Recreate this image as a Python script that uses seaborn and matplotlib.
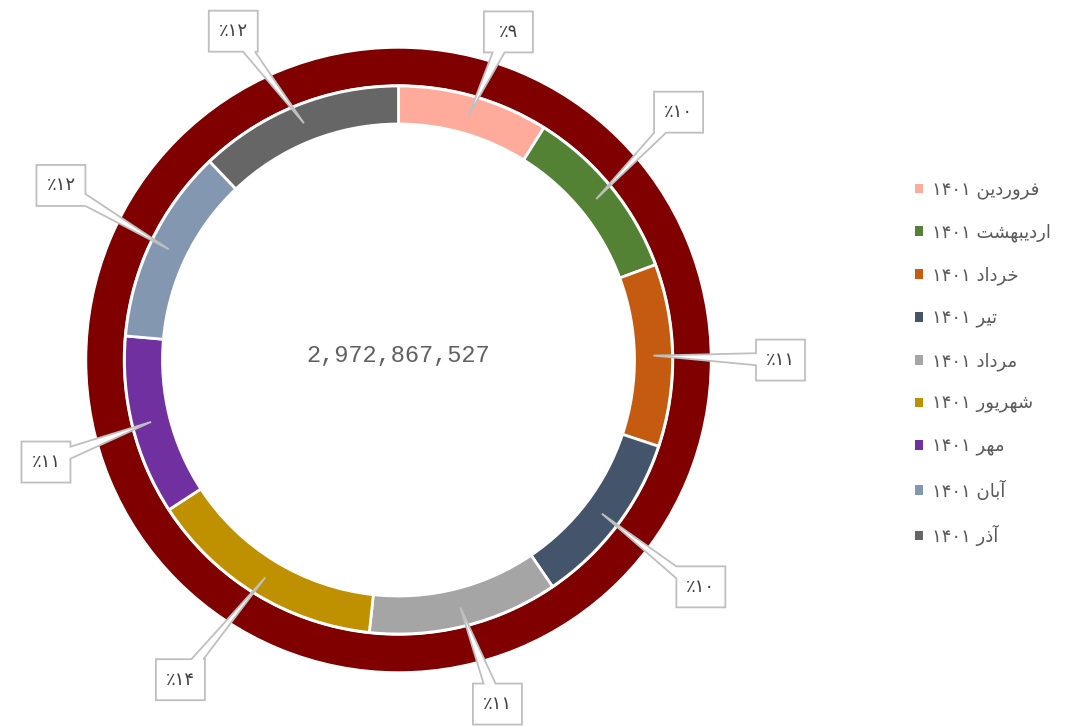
import numpy as np
import matplotlib
matplotlib.use("Agg")
import matplotlib.pyplot as plt
from matplotlib.patches import Polygon
import seaborn as sns

# ---------------- data ----------------
months = ["فروردین", "اردیبهشت", "خرداد", "تیر", "مرداد", "شهریور", "مهر", "آبان", "آذر"]
year = "1401"
shares = [8.9, 10.45, 10.75, 10.4, 11.2, 14.1, 10.6, 11.5, 12.1]   # percent of total
total = 2972867527
colors = ["#FFAB9B", "#548235", "#C55A11", "#44546A", "#A5A5A5",
          "#BF9000", "#7030A0", "#8497B0", "#666666"]
outer_color = "#800000"

# ---------------- layout ----------------
W, H = 1079, 727
cx, cy = 398.5, H - 360.0
R_outer, w_outer = 312, 37
R_inner, w_inner = 274, 38
label_r = [346, 374, 382, 378, 358, 387, 367, 380, 368]
label_dtheta = [2.5, -2.35, 1.0, -0.2, -2.0, 2.8, -2.1, 1.6, -4.9]
box_w, box_h = 49, 41

sns.set_theme(style="white")
plt.rcParams["font.family"] = ["DejaVu Sans"]

# --- minimal Persian shaping (matplotlib has no complex text layout) ---
FORMS = {
    "\u0627": ("\uFE8D", "\uFE8E", None, None),
    "\u0622": ("\uFE81", "\uFE82", None, None),
    "\u0628": ("\uFE8F", "\uFE90", "\uFE91", "\uFE92"),
    "\u062A": ("\uFE95", "\uFE96", "\uFE97", "\uFE98"),
    "\u062E": ("\uFEA5", "\uFEA6", "\uFEA7", "\uFEA8"),
    "\u062F": ("\uFEA9", "\uFEAA", None, None),
    "\u0630": ("\uFEAB", "\uFEAC", None, None),
    "\u0631": ("\uFEAD", "\uFEAE", None, None),
    "\u0634": ("\uFEB5", "\uFEB6", "\uFEB7", "\uFEB8"),
    "\u0641": ("\uFED1", "\uFED2", "\uFED3", "\uFED4"),
    "\u0645": ("\uFEE1", "\uFEE2", "\uFEE3", "\uFEE4"),
    "\u0646": ("\uFEE5", "\uFEE6", "\uFEE7", "\uFEE8"),
    "\u0647": ("\uFEE9", "\uFEEA", "\uFEEB", "\uFEEC"),
    "\u0648": ("\uFEED", "\uFEEE", None, None),
    "\u06CC": ("\uFBFC", "\uFBFD", "\uFBFE", "\uFBFF"),
}


def shape(word):
    word = word.replace("\u064A", "\u06CC")
    out = []
    for i, ch in enumerate(word):
        f = FORMS.get(ch)
        if f is None:
            out.append(ch)
            continue
        prev = word[i - 1] if i > 0 else None
        nxt = word[i + 1] if i < len(word) - 1 else None
        jp = prev in FORMS and FORMS[prev][2] is not None
        jn = f[2] is not None and nxt in FORMS
        if jp and jn:
            g = f[3]
        elif jp:
            g = f[1]
        elif jn:
            g = f[2]
        else:
            g = f[0]
        out.append(g)
    return "".join(reversed(out))


FA_DIGITS = str.maketrans("0123456789", "\u06F0\u06F1\u06F2\u06F3\u06F4\u06F5\u06F6\u06F7\u06F8\u06F9")


def fa(s):
    return str(s).translate(FA_DIGITS)


fig = plt.figure(figsize=(W / 100, H / 100), dpi=100)
ax = fig.add_axes([0, 0, 1, 1])

# outer full ring
ax.pie([total], radius=R_outer, center=(cx, cy), colors=[outer_color],
       startangle=90, counterclock=False,
       wedgeprops=dict(width=w_outer, edgecolor="white", linewidth=1))
# inner monthly ring
wedges, _ = ax.pie(shares, radius=R_inner, center=(cx, cy), colors=colors,
                   startangle=90, counterclock=False,
                   wedgeprops=dict(width=w_inner, edgecolor="white", linewidth=2))

ax.set_xlim(0, W)
ax.set_ylim(0, H)
ax.axis("off")

# callout labels
r_tip = R_inner - w_inner / 2
for k, wdg in enumerate(wedges):
    mid = np.deg2rad((wdg.theta1 + wdg.theta2) / 2)
    tip = np.array([cx + r_tip * np.cos(mid), cy + r_tip * np.sin(mid)])
    lm = mid - np.deg2rad(label_dtheta[k])
    c = np.array([cx + label_r[k] * np.cos(lm), cy + label_r[k] * np.sin(lm)])
    hw, hh = box_w / 2, box_h / 2
    x0, x1, y0, y1 = c[0] - hw, c[0] + hw, c[1] - hh, c[1] + hh
    d = tip - c
    tx = hw / abs(d[0]) if d[0] != 0 else np.inf
    ty = hh / abs(d[1]) if d[1] != 0 else np.inf
    t = min(tx, ty)
    p = c + t * d
    b = 6
    if tx < ty:
        py = np.clip(p[1], y0 + b, y1 - b)
        if d[0] > 0:  # right edge (going up)
            pts = [(x0, y0), (x1, y0), (x1, py - b), tuple(tip), (x1, py + b), (x1, y1), (x0, y1)]
        else:  # left edge (going down)
            pts = [(x0, y0), (x1, y0), (x1, y1), (x0, y1), (x0, py + b), tuple(tip), (x0, py - b)]
    else:
        px = np.clip(p[0], x0 + b, x1 - b)
        if d[1] < 0:  # bottom edge (going right)
            pts = [(x0, y0), (px - b, y0), tuple(tip), (px + b, y0), (x1, y0), (x1, y1), (x0, y1)]
        else:  # top edge (going left)
            pts = [(x0, y0), (x1, y0), (x1, y1), (px + b, y1), tuple(tip), (px - b, y1), (x0, y1)]
    ax.add_patch(Polygon(pts, closed=True, facecolor="white", edgecolor="#BFBFBF",
                         linewidth=1.3, zorder=5))
    ax.text(c[0], c[1], "\u066A" + fa(f"{shares[k]:.0f}"), ha="center", va="center",
            fontsize=13, color="#404040", zorder=6)

# center total
ax.text(cx, H - 355, f"{total:,}", ha="center", va="center",
        fontsize=17, color="#606060", family="Liberation Mono")

# legend
labels = [fa(year) + " " + shape(m) for m in months]
leg = ax.legend(wedges, labels, loc="upper left",
                bbox_to_anchor=(915 / W, 1 - 181 / H), frameon=False,
                borderaxespad=0, borderpad=0, handlelength=0.46, handleheight=0.46,
                handletextpad=0.5, labelspacing=1.34, fontsize=13)
for txt in leg.get_texts():
    txt.set_color("#595959")
for h in leg.legend_handles:
    h.set_edgecolor("none")

fig.savefig("out.png", dpi=100, facecolor="white")
